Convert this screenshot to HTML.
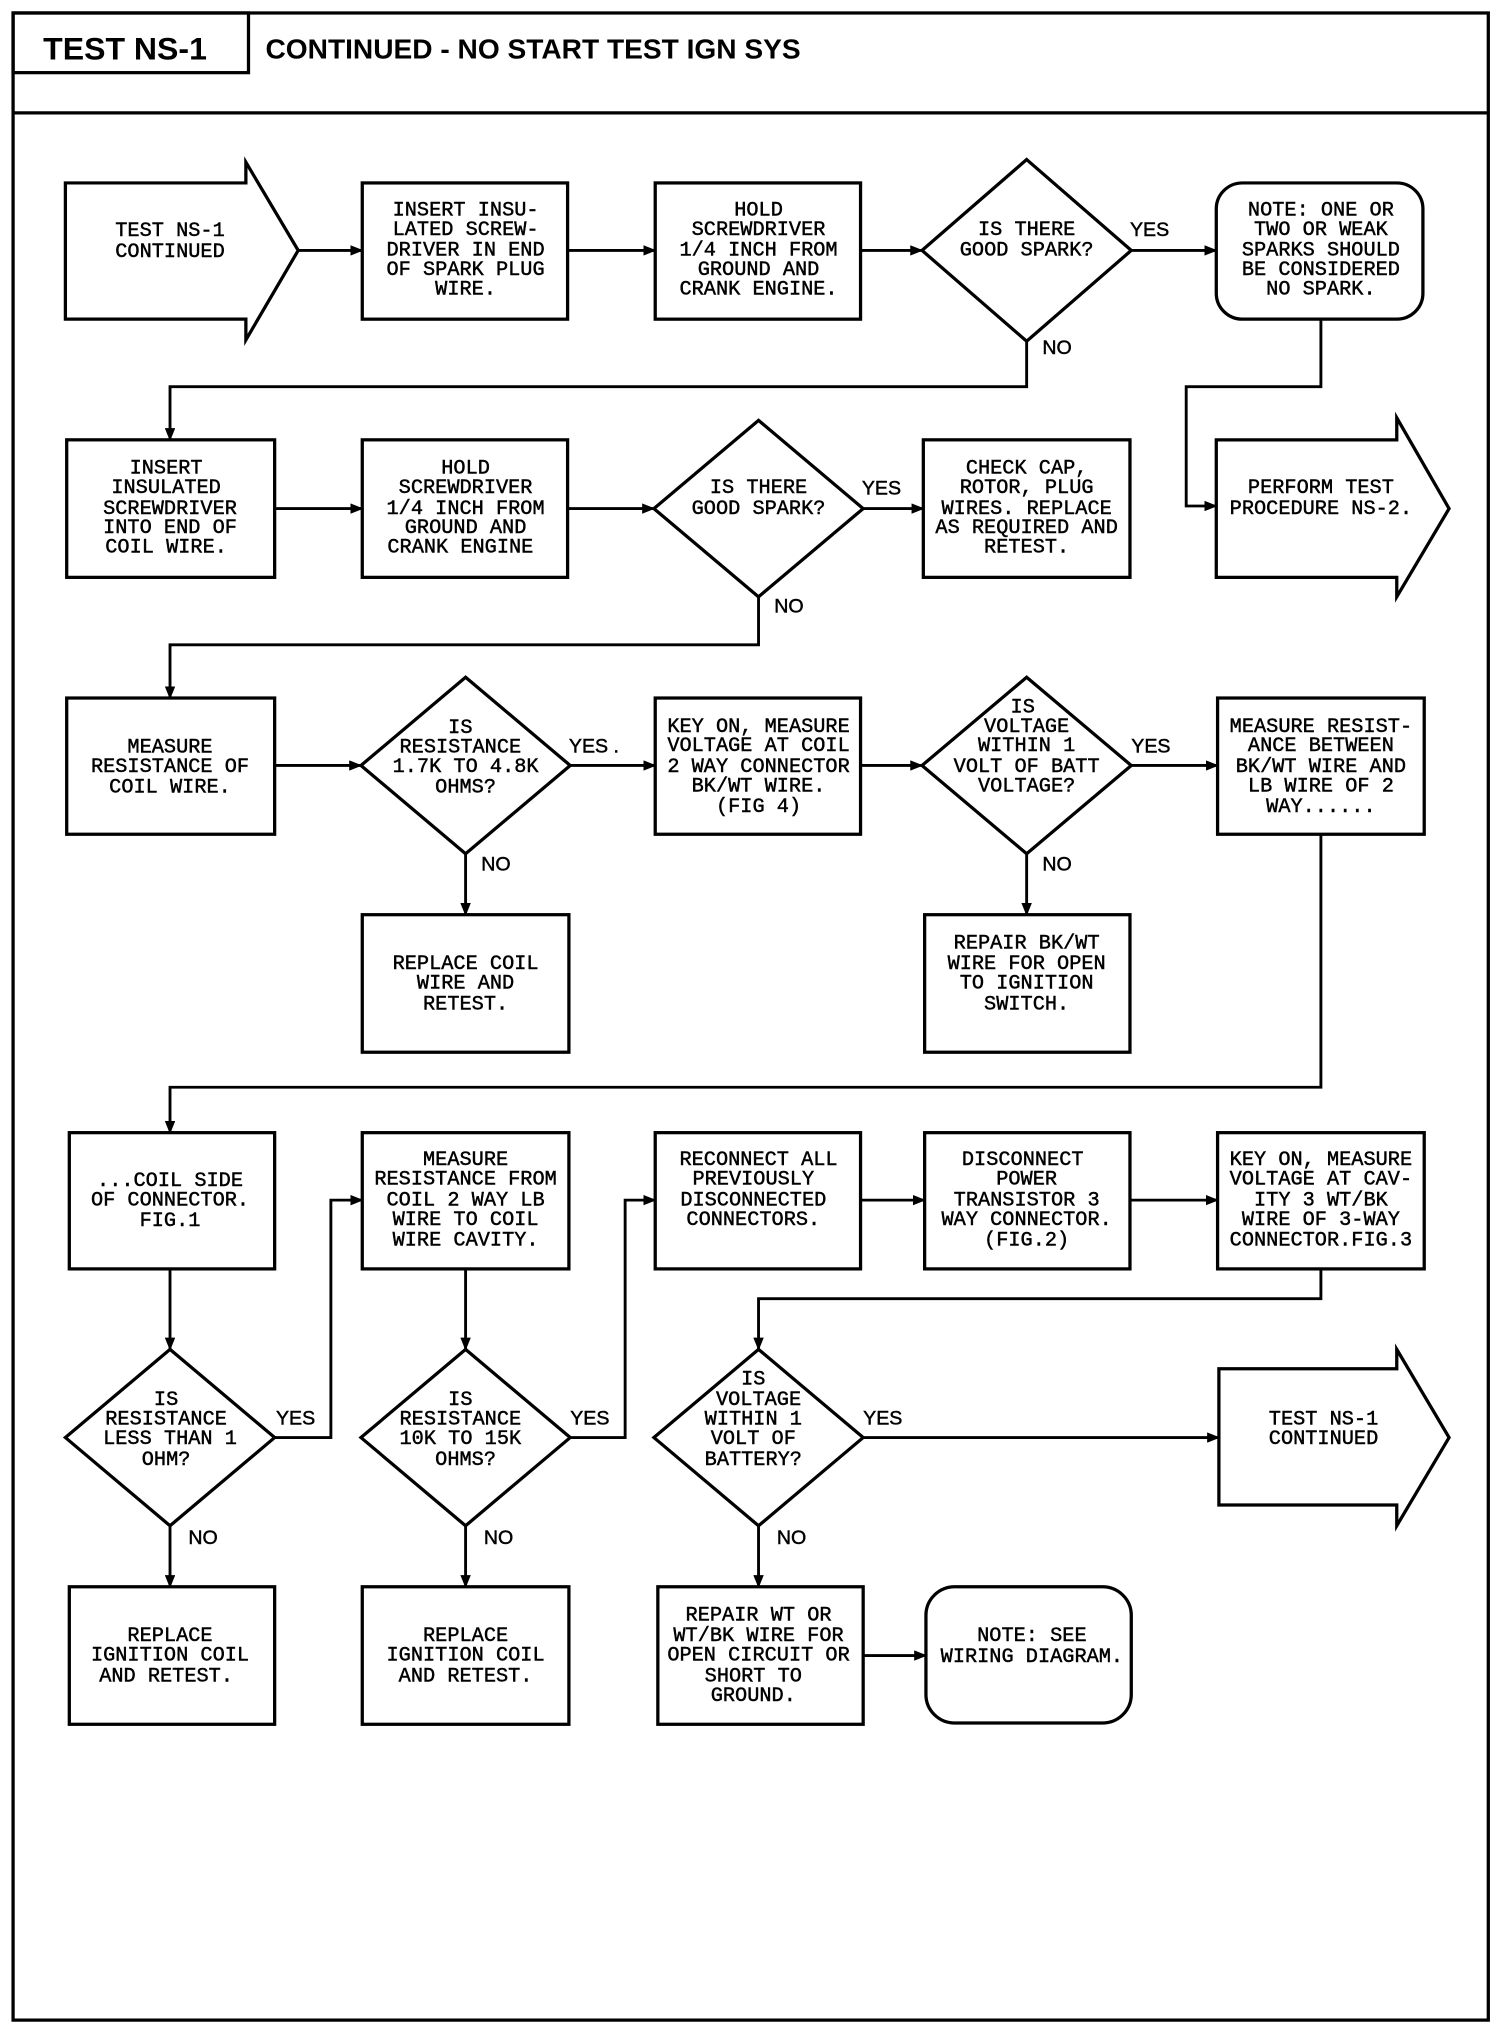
<!DOCTYPE html>
<html><head><meta charset="utf-8"><style>
html,body{margin:0;padding:0;background:#fff}
svg{display:block}
text{font-family:"Liberation Mono",monospace;font-size:15.5px;fill:#000;stroke:#000;stroke-width:0.35;text-anchor:middle}
.l{text-anchor:start;font-family:"Liberation Sans",sans-serif;font-size:15px}
.h{font-family:"Liberation Sans",sans-serif;font-weight:bold;text-anchor:start;stroke-width:0}
</style></head><body>
<svg width="1504" height="2024" viewBox="0 0 1150 1560" preserveAspectRatio="none" xmlns="http://www.w3.org/2000/svg">
<defs><marker id="a" markerWidth="10" markerHeight="8" refX="9" refY="4" orient="auto" markerUnits="userSpaceOnUse"><path d="M0,0 L10,4 L0,8 z" fill="#000"/></marker></defs>
<g fill="none" stroke="#000" stroke-width="2.5">
<rect x="10" y="10" width="1128" height="1547"/>
<rect x="10" y="10" width="180" height="46"/>
<line x1="10" y1="87" x2="1138" y2="87"/>
<path d="M50,141 H188 V125 L228,193 L188,262 V246 H50 Z"/>
<rect x="277" y="141" width="157" height="105"/>
<rect x="501" y="141" width="157" height="105"/>
<path d="M785,123 L865,193 L785,263 L705,193 Z"/>
<rect x="930" y="141" width="158" height="105" rx="20"/>
<rect x="51" y="339" width="159" height="106"/>
<rect x="277" y="339" width="157" height="106"/>
<path d="M580,324 L660,392 L580,460 L500,392 Z"/>
<rect x="706" y="339" width="158" height="106"/>
<path d="M930,339 H1068 V322 L1108,392 L1068,460 V445 H930 Z"/>
<rect x="51" y="538" width="159" height="105"/>
<path d="M356,522 L436,590 L356,658 L276,590 Z"/>
<rect x="501" y="538" width="157" height="105"/>
<path d="M785,522 L865,590 L785,658 L705,590 Z"/>
<rect x="931" y="538" width="158" height="105"/>
<rect x="277" y="705" width="158" height="106"/>
<rect x="707" y="705" width="157" height="106"/>
<rect x="53" y="873" width="157" height="105"/>
<rect x="277" y="873" width="158" height="105"/>
<rect x="501" y="873" width="157" height="105"/>
<rect x="707" y="873" width="157" height="105"/>
<rect x="931" y="873" width="158" height="105"/>
<path d="M130,1040 L210,1108 L130,1176 L50,1108 Z"/>
<path d="M356,1040 L436,1108 L356,1176 L276,1108 Z"/>
<path d="M580,1040 L660,1108 L580,1176 L500,1108 Z"/>
<path d="M932,1055 H1068 V1040 L1108,1108 L1068,1176 V1160 H932 Z"/>
<rect x="53" y="1223" width="157" height="106"/>
<rect x="277" y="1223" width="158" height="106"/>
<rect x="503" y="1223" width="157" height="106"/>
<rect x="708" y="1223" width="157" height="105" rx="22"/>
</g>
<g fill="none" stroke="#000" stroke-width="2.2" marker-end="url(#a)">
<line x1="228" y1="193" x2="277" y2="193"/>
<line x1="434" y1="193" x2="501" y2="193"/>
<line x1="658" y1="193" x2="705" y2="193"/>
<line x1="865" y1="193" x2="930" y2="193"/>
<polyline points="785,263 785,298 130,298 130,339"/>
<polyline points="1010,246 1010,298 907,298 907,390 930,390"/>
<line x1="210" y1="392" x2="277" y2="392"/>
<line x1="434" y1="392" x2="500" y2="392"/>
<line x1="660" y1="392" x2="706" y2="392"/>
<polyline points="580,460 580,497 130,497 130,538"/>
<line x1="210" y1="590" x2="276" y2="590"/>
<line x1="436" y1="590" x2="501" y2="590"/>
<line x1="658" y1="590" x2="705" y2="590"/>
<line x1="865" y1="590" x2="931" y2="590"/>
<line x1="356" y1="658" x2="356" y2="705"/>
<line x1="785" y1="658" x2="785" y2="705"/>
<polyline points="1010,643 1010,838 130,838 130,873"/>
<line x1="658" y1="925" x2="707" y2="925"/>
<line x1="864" y1="925" x2="931" y2="925"/>
<line x1="130" y1="978" x2="130" y2="1040"/>
<line x1="356" y1="978" x2="356" y2="1040"/>
<polyline points="1010,978 1010,1001 580,1001 580,1040"/>
<polyline points="210,1108 253,1108 253,925 277,925"/>
<polyline points="436,1108 478,1108 478,925 501,925"/>
<line x1="660" y1="1108" x2="932" y2="1108"/>
<line x1="130" y1="1176" x2="130" y2="1223"/>
<line x1="356" y1="1176" x2="356" y2="1223"/>
<line x1="580" y1="1176" x2="580" y2="1223"/>
<line x1="660" y1="1276" x2="708" y2="1276"/>
</g>
<text class="h" x="33" y="46" style="font-size:24.5px">TEST NS-1</text>
<text class="h" x="203" y="45" style="font-size:21.5px">CONTINUED - NO START TEST IGN SYS</text>
<text class="l" x="864" y="182">YES</text>
<text class="l" x="797" y="273">NO</text>
<text class="l" x="659" y="381">YES</text>
<text class="l" x="592" y="472">NO</text>
<text class="l" x="435" y="580">YES .</text>
<text class="l" x="865" y="580">YES</text>
<text class="l" x="368" y="671">NO</text>
<text class="l" x="797" y="671">NO</text>
<text class="l" x="211" y="1098">YES</text>
<text class="l" x="436" y="1098">YES</text>
<text class="l" x="660" y="1098">YES</text>
<text class="l" x="144" y="1190">NO</text>
<text class="l" x="370" y="1190">NO</text>
<text class="l" x="594" y="1190">NO</text>
<text x="130" y="182">TEST NS-1</text><text x="130" y="198">CONTINUED</text>
<text x="356" y="166">INSERT INSU-</text><text x="356" y="181">LATED SCREW-</text><text x="356" y="197">DRIVER IN END</text><text x="356" y="212">OF SPARK PLUG</text><text x="356" y="227">WIRE.</text>
<text x="580" y="166">HOLD</text><text x="580" y="181">SCREWDRIVER</text><text x="580" y="197">1/4 INCH FROM</text><text x="580" y="212">GROUND AND</text><text x="580" y="227">CRANK ENGINE.</text>
<text x="785" y="181">IS THERE</text><text x="785" y="197">GOOD SPARK?</text>
<text x="1010" y="166">NOTE: ONE OR</text><text x="1010" y="181">TWO OR WEAK</text><text x="1010" y="197">SPARKS SHOULD</text><text x="1010" y="212">BE CONSIDERED</text><text x="1010" y="227">NO SPARK.</text>
<text x="127" y="365">INSERT</text><text x="127" y="380">INSULATED</text><text x="130" y="396">SCREWDRIVER</text><text x="130" y="411">INTO END OF</text><text x="127" y="426">COIL WIRE.</text>
<text x="356" y="365">HOLD</text><text x="356" y="380">SCREWDRIVER</text><text x="356" y="396">1/4 INCH FROM</text><text x="356" y="411">GROUND AND</text><text x="352" y="426">CRANK ENGINE</text>
<text x="580" y="380">IS THERE</text><text x="580" y="396">GOOD SPARK?</text>
<text x="785" y="365">CHECK CAP,</text><text x="785" y="380">ROTOR, PLUG</text><text x="785" y="396">WIRES. REPLACE</text><text x="785" y="411">AS REQUIRED AND</text><text x="785" y="426">RETEST.</text>
<text x="1010" y="380">PERFORM TEST</text><text x="1010" y="396">PROCEDURE NS-2.</text>
<text x="130" y="580">MEASURE</text><text x="130" y="595">RESISTANCE OF</text><text x="130" y="611">COIL WIRE.</text>
<text x="352" y="565">IS</text><text x="352" y="580">RESISTANCE</text><text x="356" y="595">1.7K TO 4.8K</text><text x="356" y="611">OHMS?</text>
<text x="580" y="564">KEY ON, MEASURE</text><text x="580" y="579">VOLTAGE AT COIL</text><text x="580" y="595">2 WAY CONNECTOR</text><text x="580" y="610">BK/WT WIRE.</text><text x="580" y="626">(FIG 4)</text>
<text x="782" y="549">IS</text><text x="785" y="564">VOLTAGE</text><text x="785" y="579">WITHIN 1</text><text x="785" y="595">VOLT OF BATT</text><text x="785" y="610">VOLTAGE?</text>
<text x="1010" y="564">MEASURE RESIST-</text><text x="1010" y="579">ANCE BETWEEN</text><text x="1010" y="595">BK/WT WIRE AND</text><text x="1010" y="610">LB WIRE OF 2</text><text x="1010" y="626">WAY......</text>
<text x="356" y="747">REPLACE COIL</text><text x="356" y="762">WIRE AND</text><text x="356" y="778">RETEST.</text>
<text x="785" y="731">REPAIR BK/WT</text><text x="785" y="747">WIRE FOR OPEN</text><text x="785" y="762">TO IGNITION</text><text x="785" y="778">SWITCH.</text>
<text x="130" y="914">...COIL SIDE</text><text x="130" y="929">OF CONNECTOR.</text><text x="130" y="945">FIG.1</text>
<text x="356" y="898">MEASURE</text><text x="356" y="913">RESISTANCE FROM</text><text x="356" y="929">COIL 2 WAY LB</text><text x="356" y="944">WIRE TO COIL</text><text x="356" y="960">WIRE CAVITY.</text>
<text x="580" y="898">RECONNECT ALL</text><text x="576" y="913">PREVIOUSLY</text><text x="576" y="929">DISCONNECTED</text><text x="576" y="944">CONNECTORS.</text>
<text x="782" y="898">DISCONNECT</text><text x="785" y="913">POWER</text><text x="785" y="929">TRANSISTOR 3</text><text x="785" y="944">WAY CONNECTOR.</text><text x="785" y="960">(FIG.2)</text>
<text x="1010" y="898">KEY ON, MEASURE</text><text x="1010" y="913">VOLTAGE AT CAV-</text><text x="1010" y="929">ITY 3 WT/BK</text><text x="1010" y="944">WIRE OF 3-WAY</text><text x="1010" y="960">CONNECTOR.FIG.3</text>
<text x="127" y="1083">IS</text><text x="127" y="1098">RESISTANCE</text><text x="130" y="1113">LESS THAN 1</text><text x="127" y="1129">OHM?</text>
<text x="352" y="1083">IS</text><text x="352" y="1098">RESISTANCE</text><text x="352" y="1113">10K TO 15K</text><text x="356" y="1129">OHMS?</text>
<text x="576" y="1067">IS</text><text x="580" y="1083">VOLTAGE</text><text x="576" y="1098">WITHIN 1</text><text x="576" y="1113">VOLT OF</text><text x="576" y="1129">BATTERY?</text>
<text x="1012" y="1098">TEST NS-1</text><text x="1012" y="1113">CONTINUED</text>
<text x="130" y="1265">REPLACE</text><text x="130" y="1280">IGNITION COIL</text><text x="127" y="1296">AND RETEST.</text>
<text x="356" y="1265">REPLACE</text><text x="356" y="1280">IGNITION COIL</text><text x="356" y="1296">AND RETEST.</text>
<text x="580" y="1249">REPAIR WT OR</text><text x="580" y="1265">WT/BK WIRE FOR</text><text x="580" y="1280">OPEN CIRCUIT OR</text><text x="576" y="1296">SHORT TO</text><text x="576" y="1311">GROUND.</text>
<text x="789" y="1265">NOTE: SEE</text><text x="789" y="1281">WIRING DIAGRAM.</text>
</svg>
</body></html>
